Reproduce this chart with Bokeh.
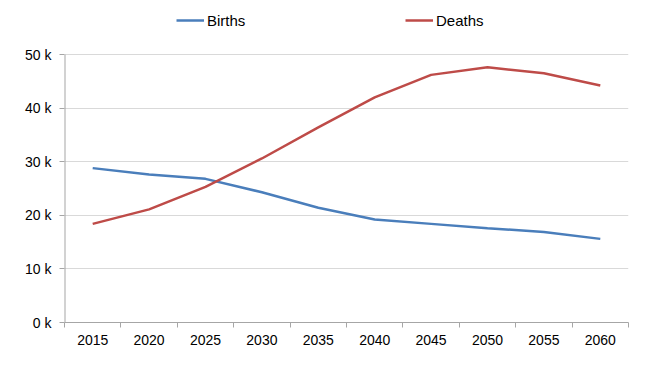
from bokeh.plotting import figure
from bokeh.models import Range1d, FixedTicker, Legend, LegendItem
from bokeh.embed import file_html
from bokeh.resources import INLINE

years = ["2015", "2020", "2025", "2030", "2035", "2040", "2045", "2050", "2055", "2060"]
births = [28800, 27600, 26800, 24300, 21400, 19200, 18400, 17600, 16900, 15600]
deaths = [18400, 21100, 25300, 30600, 36400, 42000, 46200, 47600, 46500, 44200]
y_ticks = [0, 10000, 20000, 30000, 40000, 50000]
y_tick_labels = ["0 k", "10 k", "20 k", "30 k", "40 k", "50 k"]

FONT = "Liberation Sans"
xs = [i + 0.5 for i in range(len(years))]

# frame extends above the 50 k line to leave room for the legend inside it
TOP_PAD_PX = 50
PLOT_PX = 268
y_top = y_ticks[-1] * (PLOT_PX + TOP_PAD_PX) / PLOT_PX

p = figure(width=647, height=364, output_backend="svg", toolbar_location=None,
           x_range=Range1d(0, len(years)), y_range=Range1d(0, y_top),
           min_border_left=64, min_border_right=19, min_border_top=4, min_border_bottom=42)
p.outline_line_color = None
p.background_fill_color = "white"

p.xgrid.grid_line_color = None
p.ygrid.ticker = FixedTicker(ticks=y_ticks)
p.ygrid.grid_line_color = "#D9D9D9"
p.ygrid.grid_line_width = 1

# vertical axis line only up to the top tick
p.segment(x0=[0], y0=[y_ticks[0]], x1=[0], y1=[y_ticks[-1]],
          line_color="#A6A6A6", line_width=2)

rb = p.line(xs, births, line_color="#4A7EBB", line_width=2.5)
rd = p.line(xs, deaths, line_color="#BE4B48", line_width=2.5)

# x axis
p.xaxis.ticker = FixedTicker(ticks=xs, minor_ticks=list(range(len(years) + 1)))
p.xaxis.major_label_overrides = {x: y for x, y in zip(xs, years)}
p.xaxis.major_tick_line_color = None
p.xaxis.minor_tick_line_color = "#A6A6A6"
p.xaxis.minor_tick_in = 0
p.xaxis.minor_tick_out = 5
p.xaxis.axis_line_color = "#A6A6A6"
p.xaxis.major_label_text_font = FONT
p.xaxis.major_label_text_font_size = "14px"
p.xaxis.major_label_text_color = "black"
p.xaxis.major_label_standoff = 6

# y axis
p.yaxis.ticker = FixedTicker(ticks=y_ticks, minor_ticks=[])
p.yaxis.major_label_overrides = {t: l for t, l in zip(y_ticks, y_tick_labels)}
p.yaxis.axis_line_color = None
p.yaxis.major_tick_line_color = "#A6A6A6"
p.yaxis.major_tick_in = 0
p.yaxis.major_tick_out = 5
p.yaxis.minor_tick_line_color = None
p.yaxis.major_label_text_font = FONT
p.yaxis.major_label_text_font_size = "14px"
p.yaxis.major_label_text_color = "black"
p.yaxis.major_label_standoff = 8

legend = Legend(items=[LegendItem(label="Births", renderers=[rb]),
                       LegendItem(label="Deaths", renderers=[rd])],
                orientation="horizontal", location=(112, 292),
                padding=0, margin=0, spacing=118, label_width=80,
                glyph_width=28, glyph_height=20, label_height=20, label_standoff=3,
                label_text_font=FONT, label_text_font_size="15px",
                label_text_color="black",
                border_line_color=None, background_fill_alpha=0)
p.add_layout(legend, "center")

open("out.html", "w").write(file_html(p, INLINE))
